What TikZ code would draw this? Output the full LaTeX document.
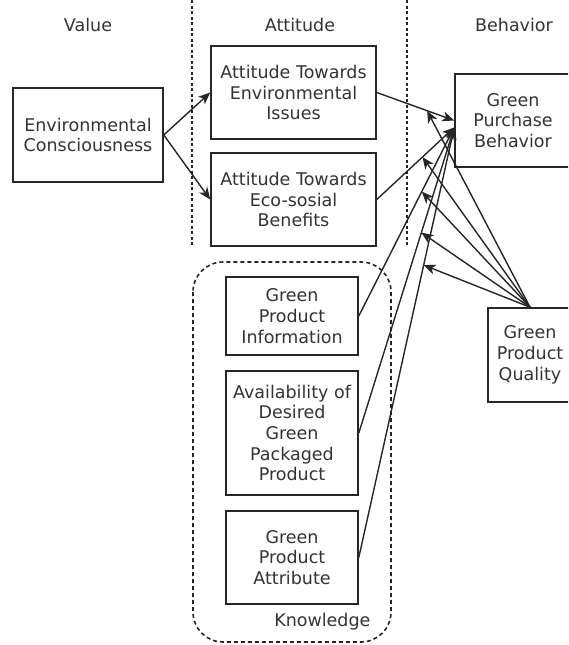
\documentclass[tikz,border=0pt]{standalone}
\usepackage{fontspec}
\setmainfont{DejaVu Sans}
\usetikzlibrary{arrows.meta}
\begin{document}
\begin{tikzpicture}[x=1pt, y=-1pt,
    box/.style={draw=black!85, line width=1.6pt, align=center, inner sep=0pt,
        font=\fontsize{17.5}{20.7}\selectfont, text=black!80},
    head/.style={font=\fontsize{17.5}{20.7}\selectfont, text=black!80},
    arr/.style={-{Stealth[length=12pt, width=10pt, inset=3.5pt]}, line width=1.4pt, draw=black!85},
    sep/.style={line width=1.6pt, draw=black!85, dash pattern=on 3pt off 2.5pt}]
        \clip (0,0) rectangle (568,645);

        % Column headers
        \node[head] (hval) at (88,25) {Value};
        \node[head] (hatt) at (300,25) {Attitude};
        \node[head] (hbeh) at (514,25) {Behavior};

        % Separators
        \coordinate (s1t) at (192,0);
        \coordinate (s1b) at (192,246);
        \coordinate (s2t) at (407,0);
        \coordinate (s2b) at (407,246);
        \draw[sep] (s1t) -- (s1b);
        \draw[sep] (s2t) -- (s2b);

        % Knowledge group
        \draw[sep, dash pattern=on 4pt off 3pt, rounded corners=30pt] (193,262) rectangle (391,642);
        \node[head, anchor=east] (hknow) at (374,622) {Knowledge};

        % Boxes
        \node[box, minimum width=150pt, minimum height=94pt] (env) at (88,135) {Environmental\\Consciousness};
        \node[box, minimum width=165pt, minimum height=93pt] (atei) at (293.5,92.5) {Attitude Towards\\Environmental\\Issues};
        \node[box, minimum width=165pt, minimum height=93pt] (ateb) at (293.5,199.5) {Attitude Towards\\Eco-sosial\\Benefits};
        \node[box, minimum width=116pt, minimum height=93pt] (gpb) at (513,120.5) {Green\\Purchase\\Behavior};
        \node[box, minimum width=132pt, minimum height=78pt] (gpi) at (292,316) {Green\\Product\\Information};
        \node[box, minimum width=132pt, minimum height=124pt] (adgpp) at (292,433) {Availability of\\Desired\\Green\\Packaged\\Product};
        \node[box, minimum width=132pt, minimum height=93pt] (gpa) at (292,557.5) {Green\\Product\\Attribute};
        \node[box, minimum width=84pt, minimum height=94pt] (gpq) at (530,355) {Green\\Product\\Quality};

        \coordinate (gpbin) at ([yshift=-7pt]gpb.west);

        % Value to attitude
        \draw[arr] (env.east) -- (atei.west);
        \draw[arr] (env.east) -- (ateb.west);

        % Into behavior
        \draw[arr] (atei.east) -- coordinate[pos=0.65] (m1) (gpb.west);
        \draw[arr] (ateb.east) -- coordinate[pos=0.59] (m2) (gpbin);
        \draw[arr] (gpi.east) -- coordinate[pos=0.66] (m3) (gpbin);
        \draw[arr] (adgpp.east) -- coordinate[pos=0.656] (m4) (gpbin);
        \draw[arr] (gpa.east) -- coordinate[pos=0.68] (m5) (gpbin);

        % Quality as moderator
        \foreach \m in {m1,m2,m3,m4,m5}
            \draw[arr] (gpq.north) -- (\m);
\end{tikzpicture}
\end{document}
